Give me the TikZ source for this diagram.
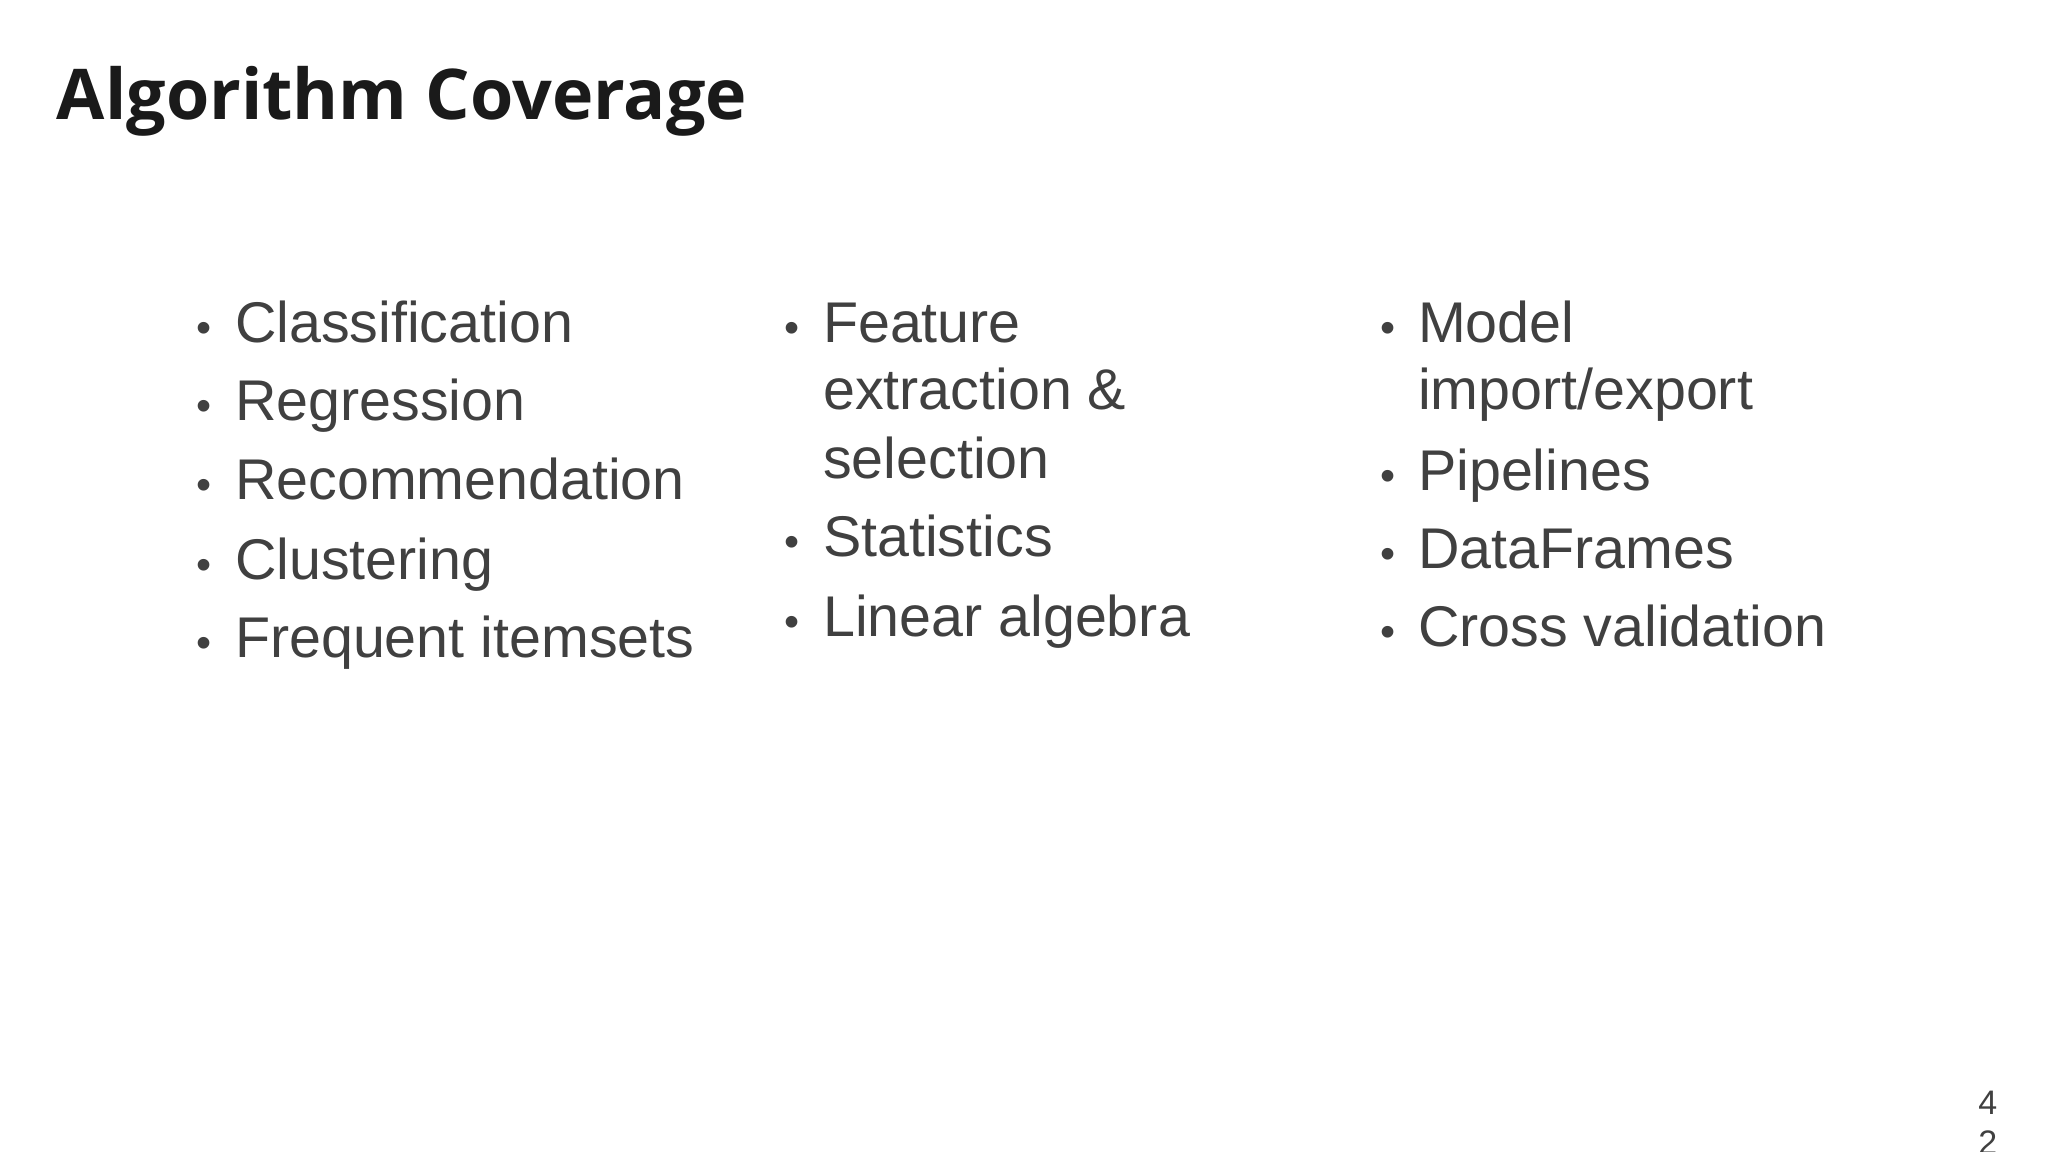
\documentclass[tikz,border=0pt]{standalone}
\usepackage{fontspec}
\setmainfont{Liberation Sans}
\newfontfamily\titlefont{Open Sans}
\definecolor{txt}{HTML}{404040}
\definecolor{ttl}{HTML}{1A1A1A}
\begin{document}
\begin{tikzpicture}[x=0.495pt,y=-0.495pt,
  item/.style={anchor=base west,inner sep=0pt,text=txt,font=\fontsize{28.7}{33}\selectfont},
  bul/.style={anchor=base west,inner sep=0pt,text=txt,font=\fontsize{21.5}{26}\selectfont}]
\useasboundingbox (0,0) rectangle (2068.7,1163.6);
\node[anchor=base west,inner sep=0pt,text=ttl,font=\titlefont\bfseries\fontsize{35}{40}\selectfont] (title) at (57,121) {Algorithm Coverage};
% column 1
\foreach \t/\y [count=\i] in {Classification/346,Regression/425,Recommendation/505,Clustering/585,Frequent itemsets/664}{
  \node[bul] (ba\i) at (198,\y) {•};
  \node[item] (a\i) at (237,\y) {\t};
}
% column 2
\node[bul] (bb1) at (792,346) {•};
\node[item] (b1) at (831,346) {Feature};
\node[item] (b1b) at (831,414) {extraction \&};
\node[item] (b1c) at (831,483) {selection};
\node[bul] (bb2) at (792,562) {•};
\node[item] (b2) at (831,562) {Statistics};
\node[bul] (bb3) at (792,643) {•};
\node[item] (b3) at (831,643) {Linear algebra};
% column 3
\node[bul] (bc1) at (1394,346) {•};
\node[item] (c1) at (1432,346) {Model};
\node[item] (c1b) at (1432,414) {import/export};
\node[bul] (bc2) at (1394,495) {•};
\node[item] (c2) at (1432,495) {Pipelines};
\node[bul] (bc3) at (1394,574) {•};
\node[item] (c3) at (1432,574) {DataFrames};
\node[bul] (bc4) at (1394,653) {•};
\node[item] (c4) at (1432,653) {Cross validation};
% page number
\node[anchor=base west,inner sep=0pt,text=txt,font=\fontsize{17}{20}\selectfont] (p1) at (1998,1126) {4};
\node[anchor=base west,inner sep=0pt,text=txt,font=\fontsize{17}{20}\selectfont] (p2) at (1998,1166) {2};
\end{tikzpicture}
\end{document}
